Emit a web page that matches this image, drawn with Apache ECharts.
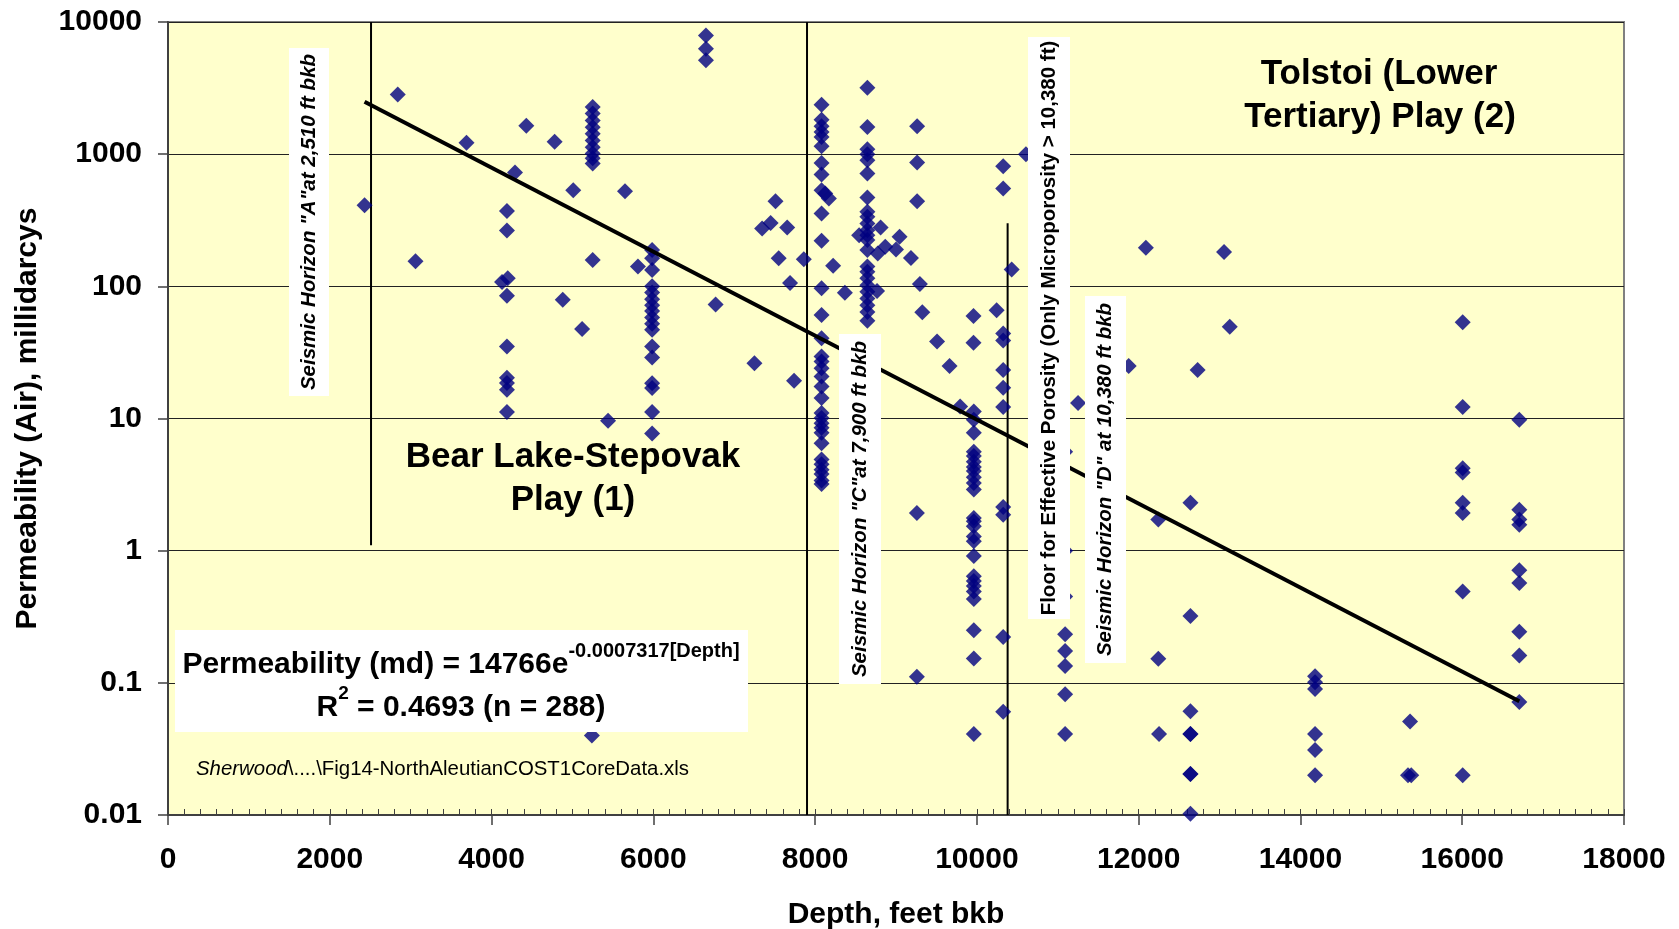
<!DOCTYPE html>
<html>
<head>
<meta charset="utf-8">
<script src="https://cdn.jsdelivr.net/npm/echarts@6/dist/echarts.min.js"></script>
<style>
  html, body { margin: 0; padding: 0; background: #ffffff; }
  #chart { width: 1679px; height: 929px; }
</style>
</head>
<body>
<div id="chart"></div>
<script>
// North Aleutian COST No. 1 well: core permeability (air) versus depth
const depthFt = [
  2430, 2840, 3060, 3690, 4290, 4430, 4780,
  4190, 4190, 4130, 4200, 4190, 4190, 4190, 4190, 4190, 4190,
  4880, 5010, 5120, 5250,
  5250, 5250, 5250, 5250, 5250, 5250, 5250, 5250, 5250, 5250,
  5240, 5440, 5650, 5810,
  5985, 5985, 5985, 5985, 5985, 5985, 5985, 5985, 5985, 5985, 5985, 5985, 5985, 5985, 5985, 5985, 5985,
  6650, 6650, 6650,
  6770, 7250, 7345, 7450, 7510, 7550, 7655, 7690, 7740, 7860,
  8080, 8080, 8080, 8080, 8080, 8080, 8080, 8080, 8080, 8080, 8080, 8080, 8080, 8080, 8080, 8080,
  8080, 8080, 8080, 8080, 8080, 8080, 8080, 8080, 8080, 8080, 8080, 8080, 8080, 8080, 8080, 8080,
  8125, 8170, 8223, 8368,
  8646, 8646, 8646, 8646, 8646, 8646, 8646, 8646, 8646, 8646, 8646, 8646,
  8646, 8646, 8646, 8646, 8646, 8646, 8646, 8646, 8646, 8646, 8646,
  8544, 8766, 8774, 8810, 8867, 9000, 9044,
  9185, 9258, 9258, 9261, 9261, 9261, 9295, 9325, 9508, 9662,
  9793, 9958, 9958,
  9962, 9962, 9962, 9962, 9962, 9962, 9962, 9962, 9962, 9962, 9962, 9962, 9962,
  9962, 9962, 9962, 9962, 9962, 9962, 9962, 9962, 9962, 9962, 9962, 9962,
  10244,
  10325, 10325, 10325, 10325, 10325, 10325, 10325, 10325, 10325, 10325, 10325,
  10430, 10606,
  11091, 11091, 11091, 11091, 11091, 11091, 11091, 11091,
  11251, 11877, 12089,
  12243, 12243, 12252,
  12640, 12640, 12640, 12640, 12640, 12640, 12640, 12640,
  12729, 13056, 13126,
  14181, 14181, 14181, 14181, 14181, 14181,
  15355, 15330, 15370,
  16006, 16006, 16006, 16006, 16006, 16006, 16006, 16006,
  16706, 16706, 16706, 16706, 16706, 16706, 16706, 16706, 16706
];
const permeabilityMd = [
  410, 2830, 155, 1220, 727, 1640, 1240,
  371, 265, 108, 115, 85, 35, 20.3, 18.6, 16.5, 11.2,
  79, 533, 47.5, 158,
  2270, 2030, 1800, 1600, 1430, 1270, 1130, 1010, 930, 850,
  0.040, 9.6, 525, 141,
  188, 163, 133, 100, 90, 80, 72, 65, 58, 52, 47, 35, 29, 18.5, 17, 11.2, 7.7,
  7890, 6270, 5130,
  73, 26.2, 274, 302, 440, 163, 279, 106, 19.3, 160,
  2370, 1825, 1625, 1473, 1350, 1148, 859, 702, 534, 356, 221, 96.6, 60.7, 40.5, 29.4, 27,
  24, 20.8, 17.5, 14.3, 11, 10.1, 9.2, 8.5, 7.8, 6.5, 4.9, 4.5, 4.1, 3.8, 3.4, 3.2,
  504, 462, 143, 89.6,
  3184, 1604, 1089, 998, 899, 713, 470, 366, 336, 299, 266, 244,
  224, 188, 141, 129, 115, 102, 91, 81, 72, 64, 55,
  244, 92, 177, 279, 199, 190, 237,
  164, 1.93, 0.111, 1626, 865, 440, 104, 63.7, 38.2, 25,
  12.3, 59.7, 37.5,
  11.3, 9.8, 7.8, 5.6, 5.2, 4.7, 4.3, 4.0, 3.6, 3.25, 2.9, 1.77, 1.67,
  1.53, 1.28, 1.18, 0.91, 0.64, 0.59, 0.54, 0.49, 0.43, 0.25, 0.153, 0.041,
  66,
  811, 549, 44, 39, 23.3, 17.1, 12.2, 2.14, 1.87, 0.222, 0.0605,
  134, 997,
  5.6, 1.0, 0.45, 0.233, 0.174, 0.134, 0.082, 0.041,
  13.1, 25, 196,
  1.72, 0.152, 0.041,
  2.3, 0.32, 0.061, 0.041, 0.041, 0.0204, 0.0204, 0.0102,
  23.3, 182, 49.5,
  0.112, 0.101, 0.090, 0.041, 0.031, 0.020,
  0.051, 0.020, 0.020,
  53.4, 12.2, 4.2, 3.9, 2.3, 1.93, 0.49, 0.020,
  9.8, 2.04, 1.72, 1.57, 0.71, 0.57, 0.244, 0.161, 0.0716
];

// Exponential fit stated on the chart: k = 14766 * exp(-0.0007317 * depth)
const fitCoefficient = 14766;
const fitExponent = -0.0007317;

// Vertical reference lines: seismic horizons A and C, and the effective-porosity floor
const markerDepths = [2510, 7900, 10380];
const markerTops = [10000, 10000, 300];
const markerBottoms = [1.1, 0.01, 0.01];

const yTickLabels = ['0.01', '0.1', '1', '10', '100', '1000', '10000'];
const yMinExponent = -2;

const FONT = "'Liberation Sans', Arial, Helvetica, sans-serif";

const points = depthFt.map((d, i) => [d, permeabilityMd[i]]);
const minDepth = Math.min(...depthFt);
const maxDepth = Math.max(...depthFt);
const fitLine = [minDepth, maxDepth].map(d => [d, fitCoefficient * Math.exp(fitExponent * d)]);

const markerSeries = markerDepths.map((d, i) => ({
  type: 'line',
  data: [[d, markerTops[i]], [d, markerBottoms[i]]],
  symbol: 'none',
  silent: true,
  z: 1,
  lineStyle: { color: '#000000', width: 2 }
}));

const chart = echarts.init(document.getElementById('chart'), null, { renderer: 'canvas' });

const boxText = (x, y, w, h, text, italic) => ([
  { type: 'rect', z: 100, shape: { x: x, y: y, width: w, height: h }, style: { fill: '#ffffff' } },
  {
    type: 'text', z: 101, x: x + w / 2, y: y + h / 2, rotation: Math.PI / 2,
    style: {
      text: text, fill: '#000000', align: 'center', verticalAlign: 'middle',
      font: (italic ? 'italic ' : '') + 'bold 20.5px ' + FONT
    }
  }
]);

const plainText = (x, y, text, size) => ({
  type: 'text', z: 101, x: x, y: y,
  style: { text: text, fill: '#000000', align: 'center', verticalAlign: 'middle', font: 'bold ' + size + 'px ' + FONT }
});

chart.setOption({
  animation: false,
  backgroundColor: '#ffffff',
  grid: {
    left: 168, right: 55, top: 22, bottom: 114,
    containLabel: false, outerBoundsMode: 'none',
    show: true, backgroundColor: '#FFFFCC', borderColor: '#808080', borderWidth: 2
  },
  xAxis: [
    {
      type: 'value', min: 0, max: 18000, interval: 2000,
      name: 'Depth, feet bkb', nameLocation: 'middle', nameGap: 85,
      nameTextStyle: { fontFamily: FONT, fontWeight: 'bold', fontSize: 30, color: '#000' },
      axisLine: { show: true, lineStyle: { color: '#404040', width: 2 } },
      axisTick: { show: true, length: 10, lineStyle: { color: '#404040', width: 1.5 } },
      axisLabel: {
        margin: 30, fontFamily: FONT, fontWeight: 'bold', fontSize: 30, color: '#000',
        formatter: v => String(v)
      },
      splitLine: { show: false }
    },
    {
      type: 'value', min: 0, max: 18000, interval: 200, position: 'bottom',
      axisLine: { show: false },
      axisTick: { show: true, inside: true, length: 6, lineStyle: { color: '#404040', width: 1 } },
      axisLabel: { show: false },
      splitLine: { show: false }
    }
  ],
  yAxis: {
    type: 'log', logBase: 10, min: 0.01, max: 10000,
    name: 'Permeability (Air), millidarcys', nameLocation: 'middle', nameGap: 125, nameRotate: 90,
    nameTextStyle: { fontFamily: FONT, fontWeight: 'bold', fontSize: 30, color: '#000' },
    axisLine: { show: true, lineStyle: { color: '#404040', width: 2 } },
    axisTick: { show: true, length: 10, lineStyle: { color: '#404040', width: 1.5 } },
    axisLabel: {
      margin: 26, fontFamily: FONT, fontWeight: 'bold', fontSize: 30, color: '#000',
      formatter: v => yTickLabels[Math.round(Math.log10(v)) - yMinExponent]
    },
    splitLine: { show: true, lineStyle: { color: '#222222', width: 1 } }
  },
  series: [
    ...markerSeries,
    {
      type: 'scatter',
      data: points,
      symbol: 'diamond',
      symbolSize: 16,
      z: 3,
      itemStyle: { color: '#000080' }
    },
    {
      type: 'line',
      data: fitLine,
      symbol: 'none',
      z: 4,
      lineStyle: { color: '#000000', width: 4 }
    }
  ],
  graphic: [
    ...boxText(289, 48, 40, 348, 'Seismic Horizon "A"at 2,510 ft bkb', true),
    ...boxText(839, 334, 42, 350, 'Seismic Horizon "C"at 7,900 ft bkb', true),
    ...boxText(1028, 37, 42, 582, 'Floor for Effective Porosity (Only Microporosity > 10,380 ft)', false),
    ...boxText(1085, 296, 41, 367, 'Seismic Horizon "D" at 10,380 ft bkb', true),
    plainText(573, 457, 'Bear Lake-Stepovak', 35),
    plainText(573, 500, 'Play (1)', 35),
    plainText(1379, 74, 'Tolstoi (Lower', 35),
    plainText(1380, 117, 'Tertiary) Play (2)', 35),
    { type: 'rect', z: 100, shape: { x: 175, y: 630, width: 573, height: 102 }, style: { fill: '#ffffff' } },
    {
      type: 'text', z: 101, x: 461, y: 665,
      style: {
        text: '{m|Permeability (md) = 14766e}{s|-0.0007317[Depth]}',
        align: 'center', verticalAlign: 'middle',
        rich: {
          m: { fontFamily: FONT, fontWeight: 'bold', fontSize: 30, fill: '#000', lineHeight: 48, verticalAlign: 'middle' },
          s: { fontFamily: FONT, fontWeight: 'bold', fontSize: 20, fill: '#000', verticalAlign: 'top' }
        }
      }
    },
    {
      type: 'text', z: 101, x: 461, y: 708,
      style: {
        text: '{m|R}{s|2}{m| = 0.4693 (n = 288)}',
        align: 'center', verticalAlign: 'middle',
        rich: {
          m: { fontFamily: FONT, fontWeight: 'bold', fontSize: 30, fill: '#000', lineHeight: 48, verticalAlign: 'middle' },
          s: { fontFamily: FONT, fontWeight: 'bold', fontSize: 19, fill: '#000', verticalAlign: 'top' }
        }
      }
    },
    {
      type: 'text', z: 101, x: 196, y: 769,
      style: {
        text: '{i|Sherwood}{n|\\....\\Fig14-NorthAleutianCOST1CoreData.xls}',
        align: 'left', verticalAlign: 'middle',
        rich: {
          i: { fontFamily: FONT, fontStyle: 'italic', fontSize: 20.4, fill: '#000' },
          n: { fontFamily: FONT, fontSize: 20.4, fill: '#000' }
        }
      }
    }
  ]
});
</script>
</body>
</html>
